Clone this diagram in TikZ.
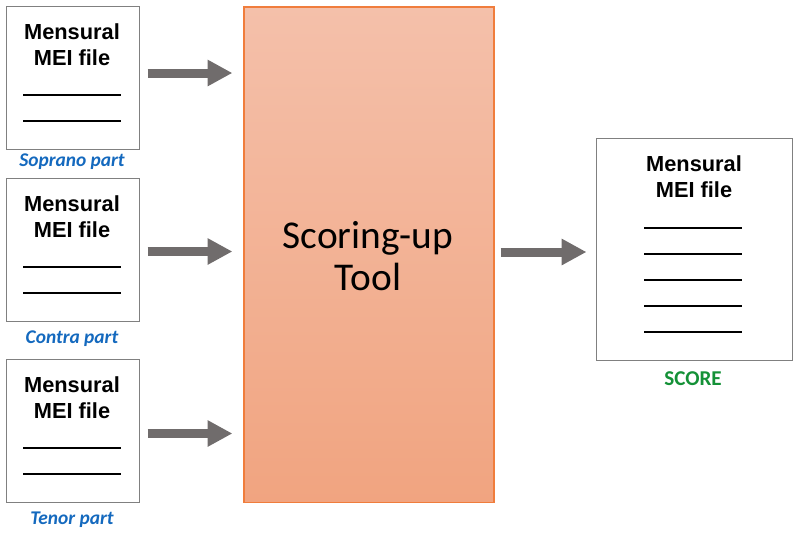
\documentclass[tikz,border=0pt]{standalone}
\usepackage{fontspec}
\setmainfont{Liberation Sans}
\newfontfamily\calibri{Carlito}
\usetikzlibrary{arrows.meta,calc}
\definecolor{partblue}{RGB}{20,105,190}
\definecolor{scoregreen}{RGB}{20,145,55}
\definecolor{tooledge}{RGB}{240,125,60}
\definecolor{tooltop}{RGB}{244,192,170}
\definecolor{toolbottom}{RGB}{241,164,128}
\definecolor{arrowgray}{RGB}{112,108,108}

\begin{document}
\begin{tikzpicture}[x=0.025cm,y=-0.025cm,
  filebox/.style={draw=gray,line width=0.7pt,fill=white,inner sep=0,minimum width=3.3cm,minimum height=3.55cm},
  filetext/.style={font=\bfseries\fontsize{15.5}{18.4}\selectfont,align=center},
  partlabel/.style={font=\calibri\bfseries\itshape\fontsize{13.8}{15}\selectfont,text=partblue},
  rule/.style={line width=1.4pt},
  bigarrow/.style={arrowgray,line width=6.4pt,-{Triangle[length=17.7pt,width=17.7pt]}}]
\useasboundingbox (0,0) rectangle (800,534);
% the three parts
\foreach \n/\t in {sop/7,con/179,ten/360}{
  \node[filebox] (\n) at (73,\t+71) {};
  \node[filetext] (\n text) at (72,\t+38) {Mensural\\MEI file};
  \foreach \d in {88,114}
    \draw[rule] (23,\t+\d) -- (121,\t+\d);
}
\node[partlabel] (soplabel) at (72,162) {Soprano part};
\node[partlabel] (conlabel) at (72,339) {Contra part};
\node[partlabel] (tenlabel) at (72,520) {Tenor part};
% the tool
\node[draw=tooledge,line width=0.8pt,top color=tooltop,bottom color=toolbottom,inner sep=0,
  minimum width=6.25cm,minimum height=12.375cm] (tool) at (369,254.5) {};
\node[font=\calibri\fontsize{28}{29.8}\selectfont,align=center] (tooltext) at (368,256) {Scoring-up\\Tool};
% the score
\node[draw=gray,line width=0.7pt,inner sep=0,minimum width=4.875cm,minimum height=5.525cm] (score) at (694.5,249.5) {};
\node[filetext] (scoretext) at (694,176.5) {Mensural\\MEI file};
\foreach \y in {228,254,280,306,332}
  \draw[rule] (644,\y) -- (742,\y);
\node[font=\calibri\bfseries\fontsize{15}{16}\selectfont,text=scoregreen] (scorelabel) at (693,379) {SCORE};
% arrows
\draw[bigarrow] ($(sop.east)+(8,-5)$) -- ($(sop.east -| tool.west)+(-11,-5)$);
\draw[bigarrow] ($(con.east)+(8,1.5)$) -- ($(con.east -| tool.west)+(-11,1.5)$);
\draw[bigarrow] ($(ten.east)+(8,2.5)$) -- ($(ten.east -| tool.west)+(-11,2.5)$);
\draw[bigarrow] ($(tool.east)+(6,-2.5)$) -- ($(tool.east -| score.west)+(-10,-2.5)$);
\end{tikzpicture}
\end{document}
